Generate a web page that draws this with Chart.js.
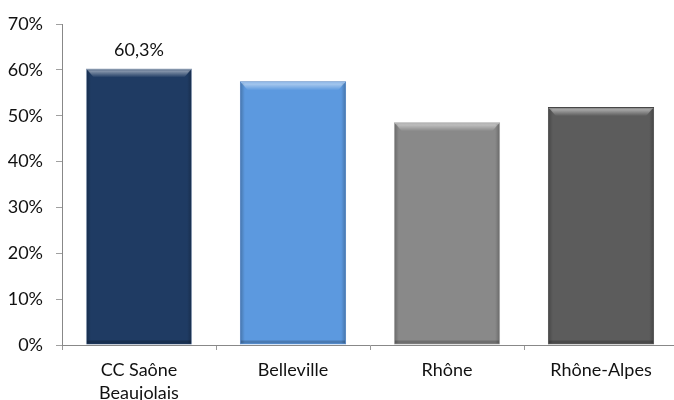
<!DOCTYPE html>
<html lang="fr">
<head>
<meta charset="utf-8">
<title>Part par territoire</title>
<script src="https://cdn.jsdelivr.net/npm/chart.js@4.4.1/dist/chart.umd.min.js"></script>
<style>
    html, body { margin: 0; padding: 0; background: #fff; overflow: hidden; }
    #cadre { width: 674px; height: 400px; overflow: hidden; }
</style>
</head>
<body>
<div id="cadre">
    <canvas id="graficoTerritoires" width="682" height="400"></canvas>
</div>
<script>
// Données
const territoires = [['CC Saône', 'Beaujolais'], 'Belleville', 'Rhône', 'Rhône-Alpes'];
const valeurs = [60.3, 57.5, 48.6, 51.9];
const couleurs = ['#1f3b63', '#5c99df', '#898989', '#5c5c5c'];
const bordures = ['#8a9bb3', '#4a7cbd', '#a3a3a3', '#474747'];
const etiquettes = [true, false, false, false];

const police = 'Lato';

// effet "biseau" sur les barres (reflet en haut, bords plus sombres)
const biseau = {
    id: 'biseau',
    afterDatasetsDraw(chart) {
        const ctx = chart.ctx;
        chart.getDatasetMeta(0).data.forEach(bar => {
            const l = bar.x - bar.width / 2, r = bar.x + bar.width / 2;
            const t = bar.y, b = bar.base;
            ctx.save();
            // reflet du haut
            let g = ctx.createLinearGradient(0, t, 0, t + 9);
            g.addColorStop(0, 'rgba(255,255,255,0.15)');
            g.addColorStop(0.3, 'rgba(255,255,255,0.45)');
            g.addColorStop(1, 'rgba(255,255,255,0)');
            ctx.fillStyle = g;
            ctx.beginPath();
            ctx.moveTo(l + 1, t + 1);
            ctx.lineTo(r - 1, t + 1);
            ctx.lineTo(r - 8, t + 9);
            ctx.lineTo(l + 8, t + 9);
            ctx.closePath();
            ctx.fill();
            // bords gauche et droit
            g = ctx.createLinearGradient(l, 0, l + 5, 0);
            g.addColorStop(0, 'rgba(0,0,0,0.25)');
            g.addColorStop(1, 'rgba(0,0,0,0)');
            ctx.fillStyle = g;
            ctx.fillRect(l + 1, t + 2, 5, b - t - 3);
            g = ctx.createLinearGradient(r - 5, 0, r, 0);
            g.addColorStop(0, 'rgba(0,0,0,0)');
            g.addColorStop(1, 'rgba(0,0,0,0.25)');
            ctx.fillStyle = g;
            ctx.fillRect(r - 6, t + 2, 5, b - t - 3);
            // bas plus sombre
            ctx.fillStyle = 'rgba(0,0,0,0.2)';
            ctx.fillRect(l + 1, b - 4, bar.width - 2, 3);
            ctx.restore();
        });
    }
};

// valeur affichée au-dessus de la barre
const valeursBarres = {
    id: 'valeursBarres',
    afterDatasetsDraw(chart) {
        const ctx = chart.ctx;
        ctx.save();
        ctx.font = '18px ' + police;
        ctx.fillStyle = '#111';
        ctx.textAlign = 'center';
        ctx.textBaseline = 'middle';
        chart.getDatasetMeta(0).data.forEach((bar, i) => {
            if (!etiquettes[i]) return;
            const txt = valeurs[i].toFixed(1).replace('.', ',') + '%';
            ctx.fillText(txt, bar.x, bar.y - 18);
        });
        ctx.restore();
    }
};

document.addEventListener('DOMContentLoaded', function(){
    const ctx = document.getElementById('graficoTerritoires').getContext('2d');
    new Chart(ctx, {
        type: 'bar',
        data: {
            labels: territoires,
            datasets: [{
                data: valeurs,
                backgroundColor: couleurs,
                borderColor: bordures,
                borderWidth: 1,
                categoryPercentage: 0.69,
                barPercentage: 1
            }]
        },
        options: {
            responsive: false,
            animation: false,
            layout: { padding: { top: 24, right: 4, left: 0, bottom: 0 } },
            plugins: {
                legend: { display: false },
                tooltip: { enabled: false }
            },
            scales: {
                y: {
                    min: 0,
                    max: 70,
                    ticks: {
                        stepSize: 10,
                        padding: 13,
                        color: '#111',
                        font: { family: police, size: 18 },
                        callback: v => v + '%'
                    },
                    grid: { drawOnChartArea: false, tickLength: 6, color: '#a0a0a0' },
                    border: { color: '#888' },
                    afterFit: s => { s.width = 62; }
                },
                x: {
                    ticks: {
                        padding: 9,
                        color: '#111',
                        font: { family: police, size: 18, lineHeight: 1.28 }
                    },
                    grid: { drawOnChartArea: false, tickLength: 5, color: '#999', offset: true },
                    border: { color: '#888' },
                    afterFit: s => { s.height = 55; }
                }
            }
        },
        plugins: [biseau, valeursBarres]
    });
});
</script>
</body>
</html>
